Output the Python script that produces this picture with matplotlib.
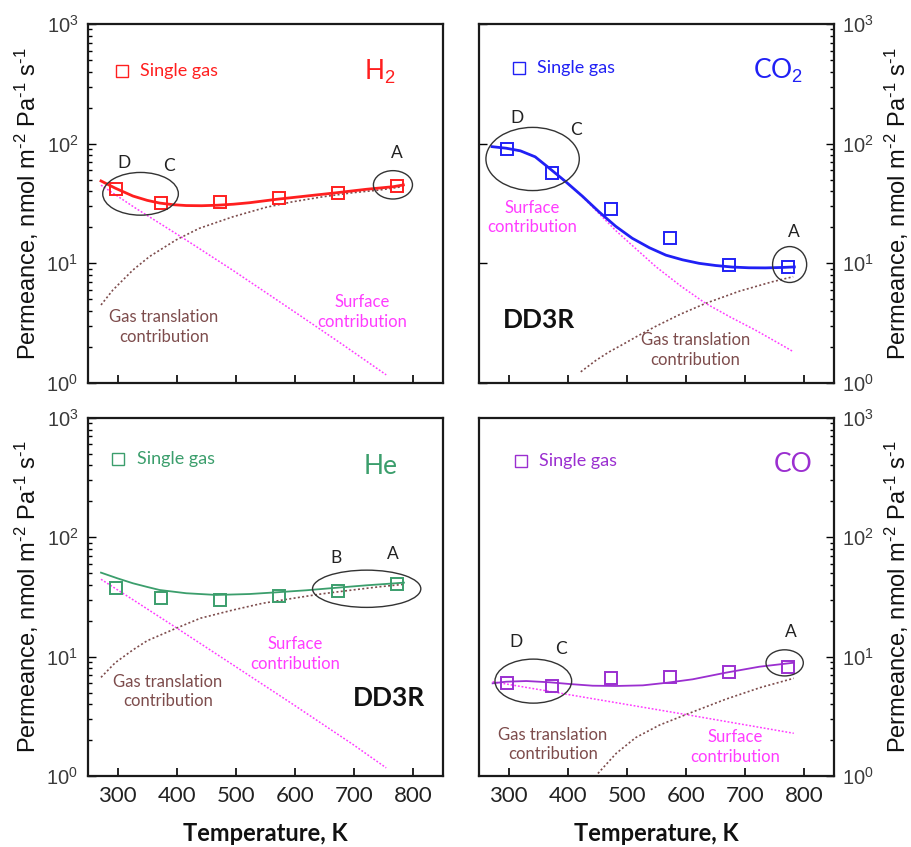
import matplotlib
matplotlib.use("Agg")
import matplotlib.pyplot as plt
from matplotlib.patches import Ellipse
from matplotlib.ticker import LogLocator, NullFormatter, FixedLocator

plt.rcParams["font.family"] = ["Liberation Sans", "DejaVu Sans"]
plt.rcParams["mathtext.fontset"] = "custom"
plt.rcParams["mathtext.rm"] = "Liberation Sans"
plt.rcParams["mathtext.it"] = "Liberation Sans:italic"
plt.rcParams["mathtext.bf"] = "Liberation Sans:bold"

# ---- measured single-gas permeances (nmol m-2 Pa-1 s-1) ----
T_meas = [298, 373, 473, 573, 673, 773]
h2_meas = [41.6, 31.8, 32.7, 35.4, 38.9, 44.3]
co2_meas = [90.2, 56.5, 28.4, 16.2, 9.68, 9.37]
he_meas = [37.8, 31.0, 29.8, 32.4, 35.5, 40.4]
co_meas = [5.98, 5.71, 6.59, 6.71, 7.48, 8.14]

# ---- model curves: total, surface and gas-translation contributions ----
h2_fit_T = [272, 296, 326, 350, 371, 394, 416, 442, 469, 496, 523, 569, 619, 670, 721, 766, 783]
h2_fit = [48.8, 42.5, 36.5, 33.6, 31.9, 30.9, 30.4, 30.3, 30.6, 31.2, 32.1, 34.3, 36.5, 38.9, 41.6, 43.7, 45.2]
h2_surf_T = [272, 330, 413, 494, 607, 680, 754]
h2_surf = [45.0, 29.0, 16.0, 8.8, 3.7, 2.1, 1.17]
h2_gas_T = [272, 292, 326, 354, 399, 438, 495, 551, 596, 647, 697, 743, 781]
h2_gas = [4.49, 5.98, 8.8, 11.4, 15.7, 19.6, 24.5, 29.4, 32.7, 36.0, 38.9, 41.0, 43.7]

co2_fit_T = [272, 296, 320, 345, 370, 397, 425, 453, 481, 509, 538, 566, 594, 622, 650, 678, 706, 734, 760, 783]
co2_fit = [94.4, 91.6, 87.1, 77.6, 61.7, 47.9, 36.3, 26.9, 20.4, 16.2, 13.5, 11.7, 10.7, 10.0, 9.59, 9.31, 9.18, 9.16, 9.23, 9.33]
co2_surf_T = [272, 296, 320, 345, 370, 397, 425, 453, 481, 509, 549, 591, 633, 675, 717, 750, 781]
co2_surf = [94.4, 91.6, 87.1, 77.6, 61.7, 47.9, 35.9, 26.0, 18.8, 14.1, 9.37, 6.46, 4.63, 3.55, 2.77, 2.24, 1.83]
co2_gas_T = [422, 448, 470, 493, 520, 549, 590, 633, 690, 745, 781]
co2_gas = [1.24, 1.55, 1.82, 2.1, 2.5, 2.98, 3.75, 4.63, 5.85, 7.0, 7.73]

he_fit_T = [272, 300, 326, 350, 371, 416, 467, 523, 568, 619, 670, 720, 784]
he_fit = [50.6, 45.3, 41.2, 38.4, 36.2, 34.0, 32.9, 33.5, 34.6, 36.0, 37.8, 39.6, 41.7]
he_surf_T = [272, 326, 399, 494, 596, 697, 754]
he_surf = [44.5, 30.0, 17.5, 8.6, 4.0, 1.85, 1.17]
he_gas_T = [272, 296, 326, 350, 399, 440, 495, 545, 596, 645, 697, 740, 784]
he_gas = [6.71, 8.9, 11.4, 13.6, 17.3, 21.0, 24.6, 28.0, 30.8, 33.6, 36.2, 38.4, 40.4]

co_fit_T = [273, 296, 330, 369, 403, 442, 481, 527, 568, 611, 667, 724, 782]
co_fit = [5.98, 6.17, 6.25, 6.1, 5.90, 5.71, 5.68, 5.75, 6.05, 6.46, 7.34, 8.24, 8.9]
co_surf_T = [273, 605, 782]
co_surf = [6.17, 3.24, 2.28]
co_gas_T = [451, 482, 515, 555, 605, 667, 725, 782]
co_gas = [1.05, 1.55, 2.1, 2.67, 3.35, 4.4, 5.5, 6.59]

x_ticks = [300, 400, 500, 600, 700, 800]

SURF_C = "#ff3cff"
GAS_C = "#7d4c4c"
TXT_FONT = ["Lato", "DejaVu Sans"]
YLABEL = r"Permeance, nmol m$^{\text{-}2}$ Pa$^{\text{-}1}$ s$^{\text{-}1}$"

fig = plt.figure(figsize=(9.11, 8.47), dpi=100)
W, H = 911, 847


def make_axes(left_px, top_px, w_px, h_px):
    return fig.add_axes([left_px / W, 1 - (top_px + h_px) / H, w_px / W, h_px / H])


def style(ax, side, bottom_labels, left_major=False):
    ax.set_yscale("log")
    ax.set_ylim(1, 1000)
    ax.set_xlim(250, 850)
    ax.xaxis.set_major_locator(FixedLocator(x_ticks))
    ax.yaxis.set_major_locator(LogLocator(base=10, numticks=10))
    ax.yaxis.set_minor_locator(LogLocator(base=10, subs=range(2, 10), numticks=10))
    ax.yaxis.set_minor_formatter(NullFormatter())
    for s in ax.spines.values():
        s.set_linewidth(1.6)
        s.set_color("#1a1a1a")
    ax.tick_params(axis="x", which="major", direction="in", length=6, width=1.2,
                   top=False, bottom=True, labelbottom=bottom_labels, pad=7,
                   labelsize=16, labelcolor="#222222", labelfontfamily="Lato")
    ax.tick_params(axis="y", which="both", direction="in", width=1.0,
                   labelsize=14.5, labelcolor="#3a3a3a")
    ax.tick_params(axis="y", which="major", length=6)
    ax.tick_params(axis="y", which="minor", length=3)
    if side == "left":
        ax.tick_params(axis="y", which="both", left=True, right=False,
                       labelleft=True, labelright=False, pad=7)
        ax.yaxis.set_label_position("left")
    else:
        ax.tick_params(axis="y", which="both", left=False, right=True,
                       labelleft=False, labelright=True, pad=6)
        if left_major:
            ax.tick_params(axis="y", which="major", left=True)
        ax.yaxis.set_label_position("right")
    ax.set_ylabel(YLABEL, fontsize=17, color="#111111",
                  labelpad=4 if side == "left" else 6)
    if bottom_labels:
        ax.set_xlabel("Temperature, K", fontsize=17, fontfamily=TXT_FONT,
                      fontweight="bold", color="#111111", labelpad=12)


def panel(ax, color, fit_T, fit, surf_T, surf, gas_T, gas, meas, lw, name,
          name_xy, legend_xy, gas_xy, surf_xy, letters, ellipses):
    ax.plot(surf_T, surf, color=SURF_C, lw=1.1, ls=(0, (1.2, 1.2)), zorder=2)
    ax.plot(gas_T, gas, color=GAS_C, lw=1.2, ls=(0, (1.2, 1.4)), zorder=2)
    ax.plot(fit_T, fit, color=color, lw=lw, zorder=3)
    ax.plot(T_meas, meas, ls="none", marker="s", ms=8.5, mfc="none",
            mec=color, mew=1.4, zorder=4)
    # legend entry
    ax.plot([legend_xy[0]], [legend_xy[1]], transform=ax.transAxes, ls="none",
            marker="s", ms=8, mfc="none", mec=color, mew=1.0, clip_on=False)
    ax.text(legend_xy[2], legend_xy[1], "Single gas", transform=ax.transAxes,
            color=color, fontsize=13, fontfamily=TXT_FONT, va="center", ha="left")
    ax.text(name_xy[0], name_xy[1], name, transform=ax.transAxes, color=color,
            fontsize=19, fontfamily=TXT_FONT, va="center", ha="center")
    ax.text(gas_xy[0], gas_xy[1], "Gas translation\ncontribution",
            transform=ax.transAxes, color=GAS_C, fontsize=12, fontfamily=TXT_FONT,
            va="center", ha="center", linespacing=1.25)
    ax.text(surf_xy[0], surf_xy[1], "Surface\ncontribution",
            transform=ax.transAxes, color=SURF_C, fontsize=12, fontfamily=TXT_FONT,
            va="center", ha="center", linespacing=1.25)
    for lab, fx, fy in letters:
        ax.text(fx, fy, lab, transform=ax.transAxes, color="#222222",
                fontsize=12.5, fontfamily=TXT_FONT, va="center", ha="center")
    for cx, cy, ew, eh in ellipses:
        ax.add_patch(Ellipse((cx, cy), ew, eh, transform=ax.transAxes,
                             fill=False, ec="#333333", lw=1.0, zorder=5))


ax1 = make_axes(88, 24, 355, 359)
ax2 = make_axes(479, 24, 355, 359)
ax3 = make_axes(88, 418, 355, 358)
ax4 = make_axes(479, 418, 355, 358)

style(ax1, "left", False)
style(ax2, "right", False, left_major=True)
style(ax3, "left", True)
style(ax4, "right", True)

panel(ax1, "#ff1f1f", h2_fit_T, h2_fit, h2_surf_T, h2_surf, h2_gas_T, h2_gas,
      h2_meas, 2.0, "H$_2$", (0.822, 0.866), (0.095, 0.869, 0.146),
      (0.214, 0.156), (0.771, 0.198),
      [("D", 0.101, 0.614), ("C", 0.229, 0.605), ("A", 0.870, 0.641)],
      [(0.148, 0.527, 0.213, 0.119), (0.859, 0.552, 0.110, 0.079)])

panel(ax2, "#2020f5", co2_fit_T, co2_fit, co2_surf_T, co2_surf, co2_gas_T, co2_gas,
      co2_meas, 2.0, "CO$_2$", (0.842, 0.870), (0.114, 0.877, 0.163),
      (0.610, 0.092), (0.150, 0.461),
      [("D", 0.108, 0.737), ("C", 0.273, 0.705), ("A", 0.887, 0.421)],
      [(0.151, 0.624, 0.263, 0.176), (0.875, 0.330, 0.096, 0.100)])
ax2.text(0.168, 0.175, "DD3R", transform=ax2.transAxes, fontsize=19,
         fontweight="bold", fontfamily=TXT_FONT, color="#111111",
         ha="center", va="center")

panel(ax3, "#3b9e6c", he_fit_T, he_fit, he_surf_T, he_surf, he_gas_T, he_gas,
      he_meas, 1.3, "He", (0.825, 0.864), (0.085, 0.885, 0.137),
      (0.225, 0.237), (0.584, 0.341),
      [("B", 0.699, 0.608), ("A", 0.858, 0.619)],
      [(0.785, 0.523, 0.305, 0.104)])
ax3.text(0.848, 0.219, "DD3R", transform=ax3.transAxes, fontsize=19,
         fontweight="bold", fontfamily=TXT_FONT, color="#111111",
         ha="center", va="center")

panel(ax4, "#9b2fd0", co_fit_T, co_fit, co_surf_T, co_surf, co_gas_T, co_gas,
      co_meas, 1.3, "CO", (0.885, 0.869), (0.118, 0.880, 0.169),
      (0.208, 0.087), (0.722, 0.081),
      [("D", 0.104, 0.373), ("C", 0.231, 0.354), ("A", 0.879, 0.401)],
      [(0.153, 0.265, 0.216, 0.123), (0.861, 0.316, 0.105, 0.073)])

fig.savefig("out.png", dpi=100)
